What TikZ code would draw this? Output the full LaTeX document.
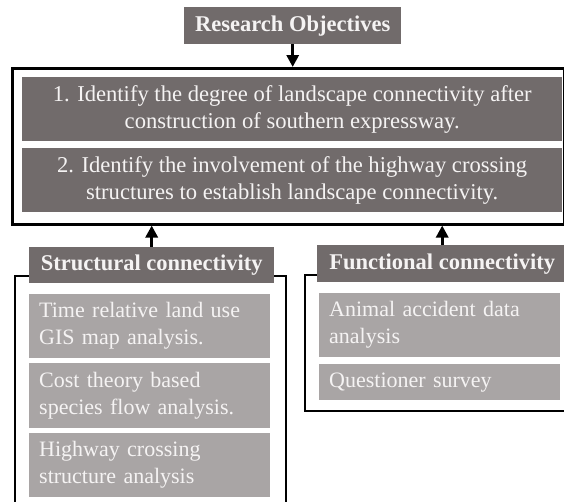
\documentclass[tikz,border=0pt]{standalone}
\usepackage{fontspec}
\setmainfont{Liberation Serif}
\usetikzlibrary{arrows.meta}
\definecolor{darkbox}{HTML}{716B6B}
\definecolor{lightbox}{HTML}{A9A5A5}
\definecolor{boxtext}{HTML}{F5F3F3}
\begin{document}
\begin{tikzpicture}[x=1pt,y=-1pt,
  txt/.style={font=\fontsize{22}{27}\selectfont},
  darkhead/.style={fill=darkbox, text=boxtext, font=\fontsize{22.5}{27}\selectfont\bfseries, inner sep=0pt, anchor=north west, align=center},
  objrow/.style={fill=darkbox, text=boxtext, font=\fontsize{22.6}{27}\selectfont, inner sep=0pt, anchor=north west, align=center, minimum width=540pt, minimum height=64pt},
  item/.style={fill=lightbox, text=boxtext, txt, inner xsep=10pt, inner ysep=0pt, anchor=north west, align=left, text width=221pt, minimum height=64pt},
  frame/.style={draw=black, line width=2pt, inner sep=0pt, anchor=north west},
  arr/.style={line width=3pt, -{Triangle[width=12pt,length=12pt]}}
]
\useasboundingbox (0,0) rectangle (564,501);
\clip (0,0) rectangle (564,501);

% research objectives
\node[darkhead, minimum width=217pt, minimum height=37pt] (ro) at (184,7) {Research Objectives};
\node[frame, line width=2.5pt, minimum width=552pt, minimum height=156pt] (objbox) at (11,67) {};
\node[objrow] (obj1) at (22,77) {1. Identify the degree of landscape connectivity after\\construction of southern expressway.};
\node[objrow] (obj2) at (22,148) {2. Identify the involvement of the highway crossing\\structures to establish landscape connectivity.};

% structural connectivity
\node[frame, minimum width=271pt, minimum height=260pt] (scframe) at (14,275) {};
\node[darkhead, minimum width=245pt, minimum height=36pt] (sc) at (29,247) {Structural connectivity};
\node[item] (s1) at (29,294) {Time relative land use\\GIS map analysis.};
\node[item, minimum height=65pt] (s2) at (29,363) {Cost theory based\\species flow analysis.};
\node[item] (s3) at (29,433) {Highway crossing\\structure analysis};

% functional connectivity
\node[frame, minimum width=300pt, minimum height=136pt] (fcframe) at (304,274) {};
\node[darkhead, minimum width=250pt, minimum height=37pt] (fc) at (317,245) {Functional connectivity};
\node[item] (f1) at (319,293) {Animal accident data\\analysis};
\node[item, minimum height=36pt] (f2) at (319,364) {Questioner survey};

% arrows
\draw[arr] (ro.south) -- (ro.south |- objbox.north);
\draw[arr] (sc.north) -- (sc.north |- objbox.south);
\draw[arr] (fc.north) -- (fc.north |- objbox.south);
\end{tikzpicture}
\end{document}
